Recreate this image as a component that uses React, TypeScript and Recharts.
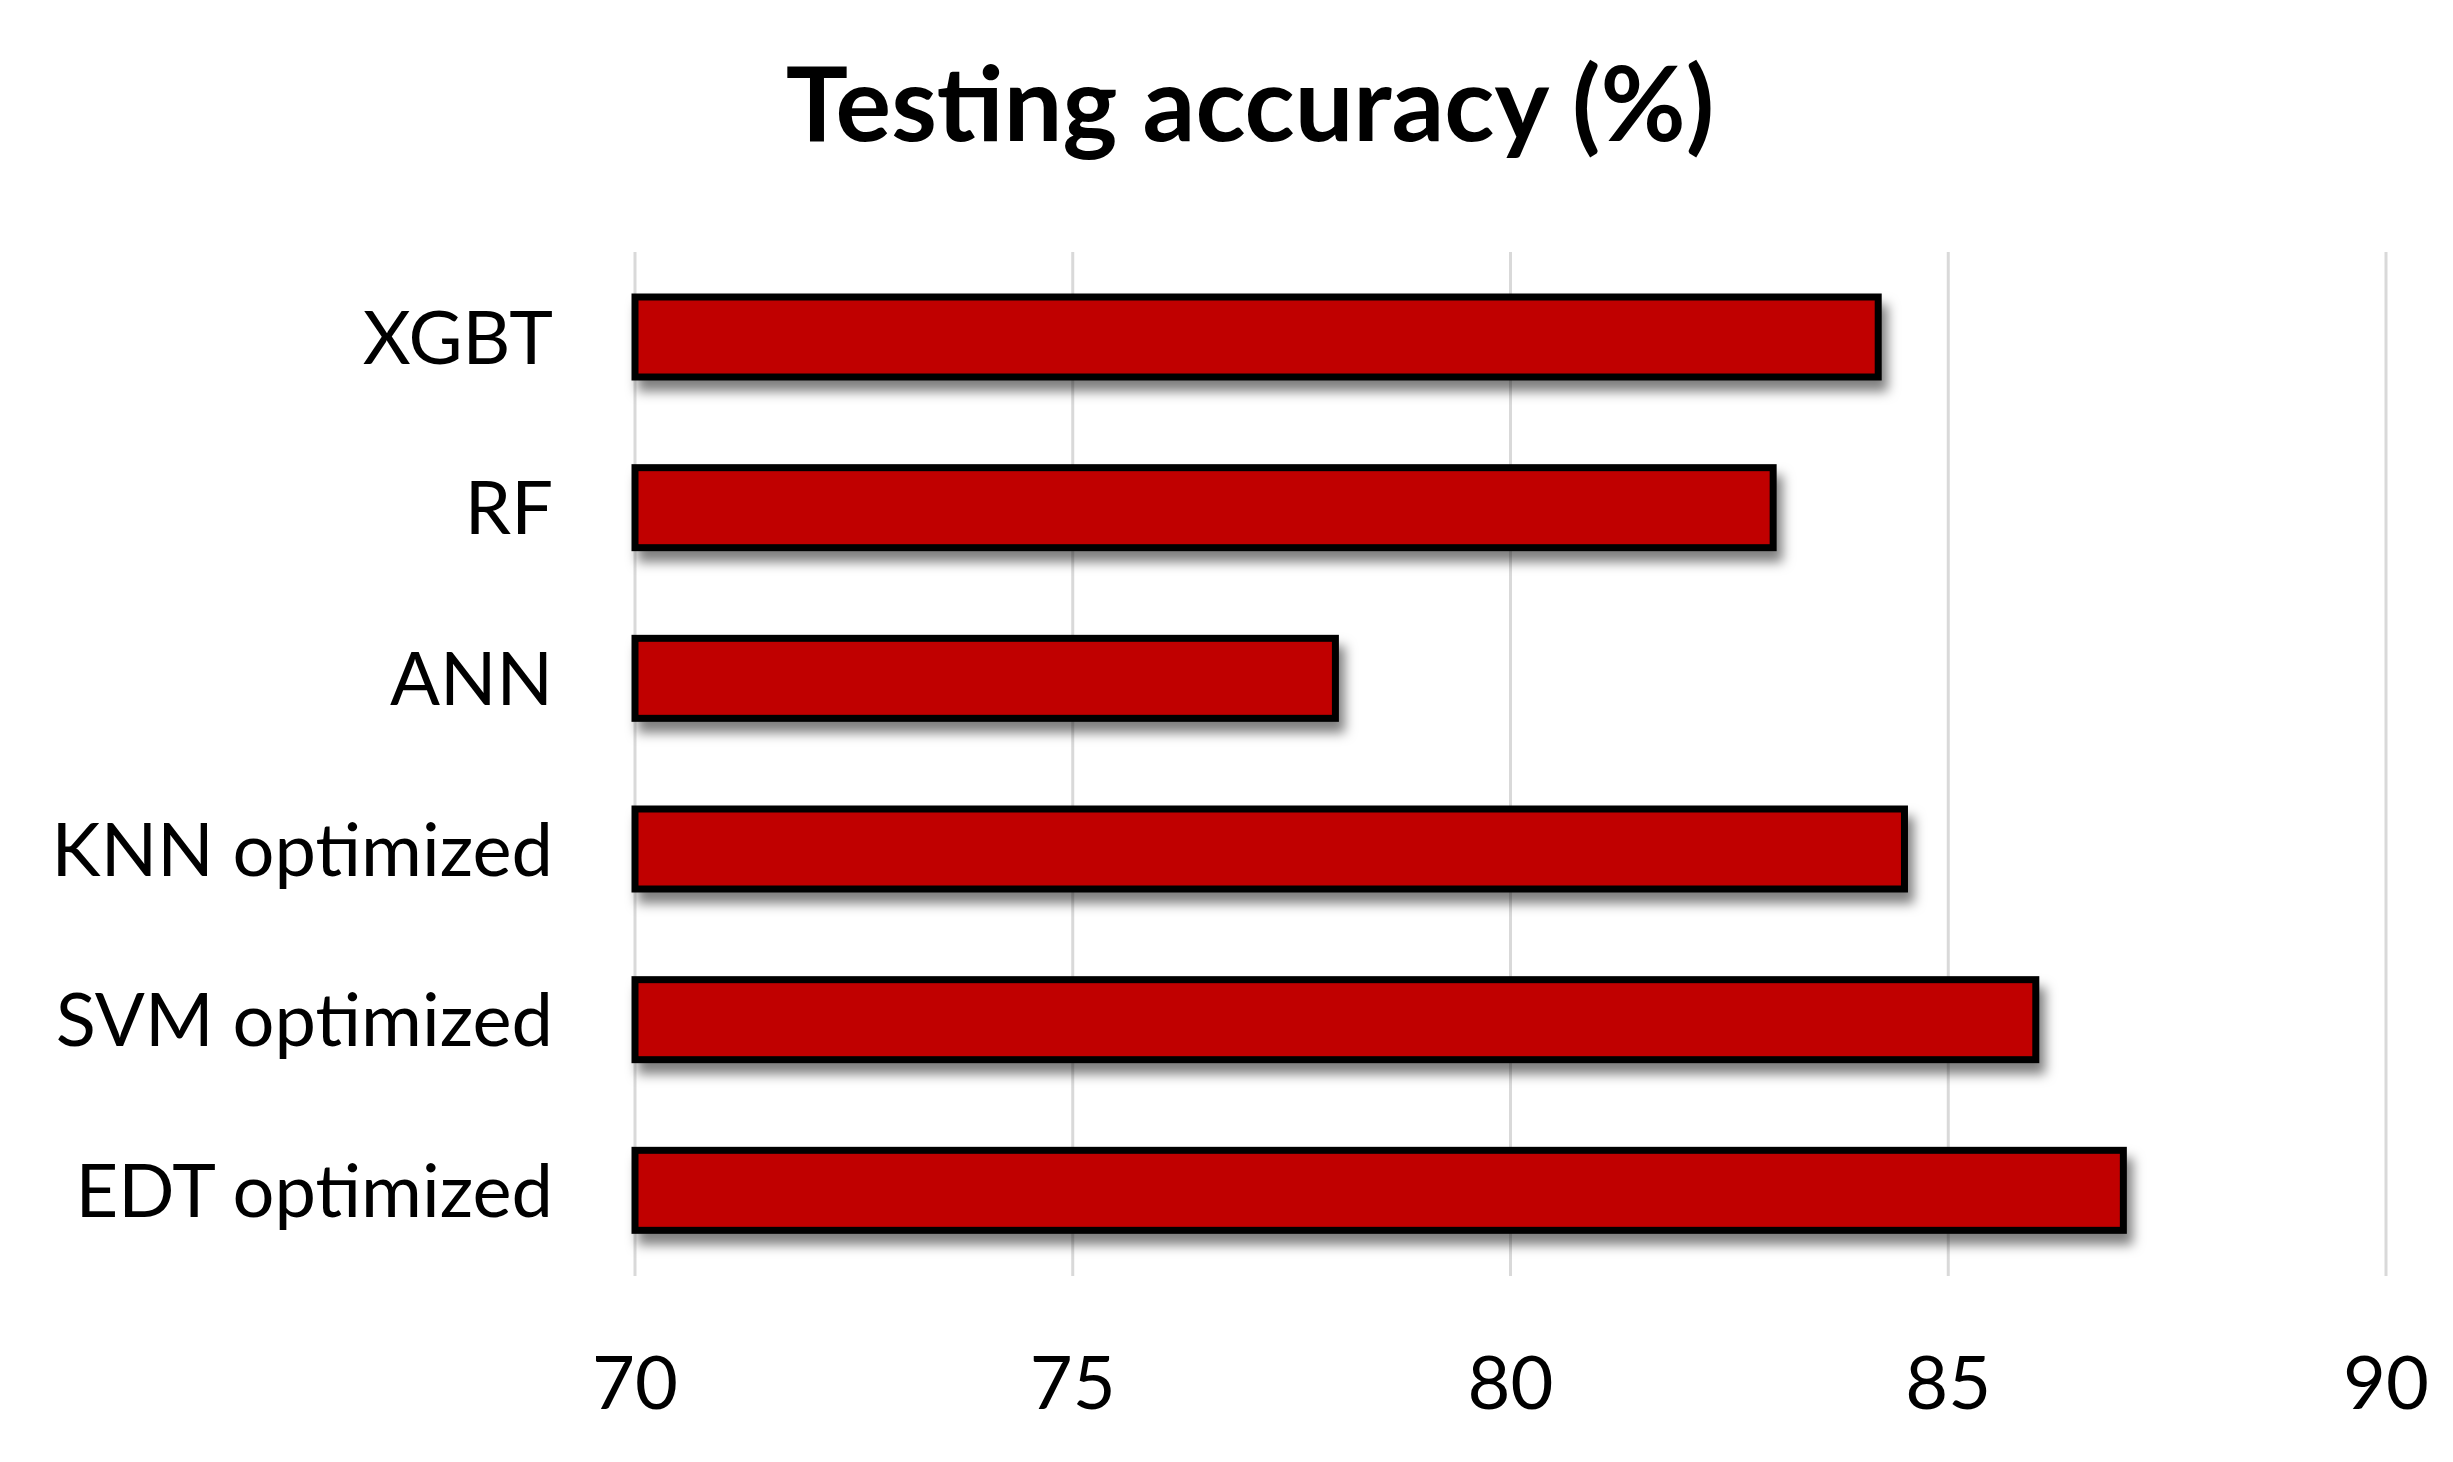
import { BarChart, Bar, XAxis, YAxis, CartesianGrid } from 'recharts';

const models = ['XGBT', 'RF', 'ANN', 'KNN optimized', 'SVM optimized', 'EDT optimized'];
const accuracy = [84.2, 83.0, 78.0, 84.5, 86.0, 87.0];
const xTicks = [70, 75, 80, 85, 90];

const data = models.map((name, i) => ({ name, value: accuracy[i] }));

const FONT = 'Lato, "Open Sans", sans-serif';
const tickStyle = { fontSize: 74, fill: '#000', fontFamily: FONT };

// bar with a black outline and a soft drop shadow, like the Excel original
function ShadowBar(props: any) {
  const { x, y, width, height } = props;
  return (
    <rect
      x={x}
      y={y}
      width={width}
      height={height}
      fill="#C00000"
      stroke="#000"
      strokeWidth={7}
      filter="url(#barShadow)"
    />
  );
}

export default function App() {
  return (
    <div style={{ position: 'absolute', left: 0, top: 0, width: 2453, height: 1462, background: '#fff' }}>
      <svg width={0} height={0} style={{ position: 'absolute' }}>
        <defs>
          <filter id="barShadow" x="-10%" y="-40%" width="130%" height="200%">
            <feDropShadow dx={6} dy={11} stdDeviation={6} floodColor="#000" floodOpacity={0.5} />
          </filter>
        </defs>
      </svg>

      <BarChart
        width={2453}
        height={1462}
        data={data}
        layout="vertical"
        margin={{ top: 252, right: 67, bottom: 0, left: 0 }}
        barSize={80}
      >
        <CartesianGrid horizontal={false} stroke="#d9d9d9" strokeWidth={3} />
        <XAxis
          type="number"
          domain={[70, 90]}
          ticks={xTicks}
          axisLine={false}
          tickLine={false}
          tickSize={0}
          tickMargin={80}
          height={186}
          tick={tickStyle}
        />
        <YAxis
          type="category"
          dataKey="name"
          width={635}
          axisLine={false}
          tickLine={false}
          tickSize={0}
          tickMargin={82}
          tick={tickStyle}
        />
        <Bar dataKey="value" isAnimationActive={false} shape={ShadowBar} />
      </BarChart>

      <svg width={2453} height={200} style={{ position: 'absolute', left: 0, top: 0, pointerEvents: 'none' }}>
        <text x={1250} y={141} textAnchor="middle" fontFamily={FONT} fontWeight={700} fontSize={104} fill="#000">
          Testing accuracy (%)
        </text>
      </svg>
    </div>
  );
}
